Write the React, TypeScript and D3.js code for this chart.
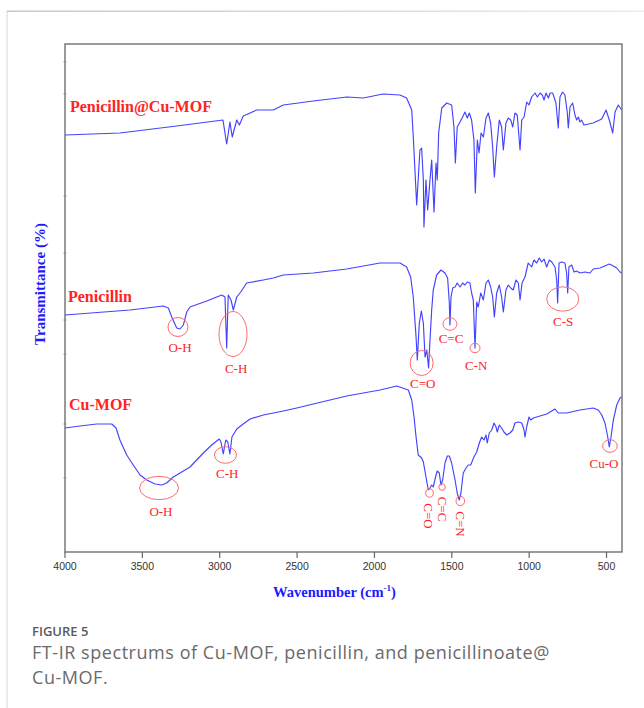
import React from 'react';
import * as d3 from 'd3';

// [wavenumber (cm-1), transmittance (a.u., offset stacked)]
const penicillinCuMOF: [number, number][] = [
  [4000, 418], [3645, 420], [3278, 427], [2979, 433], [2955, 409], [2934, 431], [2919, 416],
  [2890, 433], [2873, 428], [2848, 437], [2761, 443], [2654, 443], [2589, 448], [2395, 452],
  [2179, 456], [2072, 455], [1945, 459], [1835, 458], [1792, 455], [1759, 443], [1749, 416],
  [1727, 348], [1706, 403], [1695, 405], [1684, 373], [1680, 326], [1667, 373], [1656, 343],
  [1641, 373], [1630, 393], [1615, 341], [1602, 390], [1594, 373], [1585, 420], [1565, 445],
  [1533, 450], [1501, 448], [1486, 426], [1477, 390], [1465, 426], [1447, 431], [1430, 436],
  [1415, 441], [1400, 435], [1387, 440], [1372, 433], [1357, 413], [1348, 360], [1335, 413],
  [1324, 400], [1311, 420], [1296, 416], [1279, 435], [1264, 440], [1249, 430], [1236, 406],
  [1225, 376], [1210, 406], [1193, 433], [1178, 426], [1167, 403], [1150, 430], [1135, 435],
  [1119, 433], [1106, 426], [1092, 440], [1077, 438], [1059, 403], [1048, 433], [1033, 436],
  [1016, 451], [1001, 448], [984, 456], [962, 460], [947, 456], [930, 460], [915, 458],
  [904, 453], [891, 460], [876, 455], [865, 460], [848, 460], [827, 450], [812, 425],
  [801, 456], [784, 461], [769, 458], [754, 441], [747, 425], [736, 446], [719, 450],
  [704, 438], [693, 433], [682, 436], [672, 431], [661, 433], [646, 428], [586, 430],
  [531, 434], [503, 443], [482, 433], [460, 420], [445, 441], [424, 448], [402, 443],
];

const penicillin: [number, number][] = [
  [4000, 238], [3580, 243], [3365, 247], [3332, 245], [3310, 236], [3278, 225], [3257, 224],
  [3235, 228], [3213, 241], [3192, 246], [3084, 252], [2987, 258], [2966, 256], [2955, 205],
  [2945, 258], [2927, 253], [2912, 243], [2890, 256], [2864, 261], [2826, 270], [2718, 273],
  [2654, 275], [2589, 278], [2395, 280], [2179, 284], [1964, 290], [1856, 290], [1835, 290],
  [1792, 286], [1766, 276], [1749, 256], [1731, 216], [1723, 193], [1710, 230], [1697, 242],
  [1684, 230], [1673, 196], [1662, 203], [1650, 185], [1641, 213], [1630, 243], [1620, 263],
  [1598, 278], [1570, 283], [1544, 280], [1527, 275], [1516, 250], [1512, 228], [1505, 256],
  [1494, 265], [1479, 266], [1465, 270], [1447, 266], [1430, 270], [1415, 268], [1400, 271],
  [1383, 270], [1372, 260], [1361, 253], [1350, 205], [1339, 251], [1329, 246], [1313, 260],
  [1296, 253], [1279, 270], [1264, 273], [1249, 266], [1236, 256], [1225, 236], [1210, 260],
  [1193, 268], [1178, 256], [1167, 241], [1150, 263], [1135, 268], [1119, 265], [1103, 263],
  [1085, 273], [1070, 270], [1059, 253], [1046, 270], [1027, 276], [1006, 290], [984, 286],
  [969, 293], [951, 290], [935, 295], [919, 291], [904, 294], [887, 286], [870, 293],
  [854, 291], [833, 286], [822, 273], [816, 250], [807, 290], [790, 291], [769, 290],
  [758, 280], [751, 260], [743, 286], [725, 288], [710, 281], [693, 282], [672, 280],
  [639, 281], [607, 280], [586, 284], [542, 285], [482, 289], [456, 287], [434, 285],
  [413, 281], [402, 280],
];

const cuMOF: [number, number][] = [
  [4000, 125], [3903, 127], [3795, 129], [3698, 129], [3670, 125], [3645, 113], [3601, 98],
  [3559, 88], [3515, 78], [3472, 73], [3418, 69], [3375, 68], [3343, 70], [3300, 76],
  [3235, 82], [3192, 86], [3149, 93], [3106, 100], [3052, 108], [3003, 114], [2992, 111],
  [2977, 99], [2961, 113], [2948, 111], [2934, 99], [2921, 116], [2890, 124], [2848, 129],
  [2804, 134], [2718, 138], [2589, 142], [2502, 145], [2395, 149], [2287, 153], [2179, 157],
  [2072, 160], [1964, 163], [1856, 167], [1781, 163], [1759, 153], [1744, 136], [1731, 116],
  [1717, 98], [1695, 95], [1684, 91], [1667, 76], [1652, 63], [1641, 65], [1630, 68],
  [1620, 66], [1602, 78], [1594, 82], [1581, 80], [1570, 68], [1559, 73], [1544, 90],
  [1529, 97], [1516, 97], [1501, 90], [1479, 73], [1465, 60], [1452, 53], [1441, 60],
  [1426, 80], [1408, 85], [1393, 88], [1378, 88], [1357, 96], [1339, 101], [1322, 110],
  [1307, 116], [1292, 113], [1279, 118], [1271, 110], [1258, 120], [1242, 123], [1227, 130],
  [1214, 126], [1206, 121], [1193, 128], [1178, 125], [1163, 121], [1145, 118], [1124, 120],
  [1106, 123], [1092, 130], [1070, 131], [1048, 130], [1033, 123], [1027, 116], [1016, 126],
  [1001, 136], [990, 133], [973, 135], [930, 137], [887, 139], [854, 142], [833, 144],
  [812, 140], [758, 140], [672, 143], [586, 145], [553, 143], [531, 138], [510, 130],
  [492, 116], [482, 106], [471, 116], [456, 133], [434, 148], [413, 155], [402, 156],
];

const seriesNames = ['Penicillin@Cu-MOF', 'Penicillin', 'Cu-MOF'];
const seriesNamePos: [number, number][] = [[3968, 441], [3981, 251], [3974, 143]];

const xTicks = [4000, 3500, 3000, 2500, 2000, 1500, 1000, 500];
const yMinorTicks = [491, 459, 357, 300, 233, 199, 129, 75];

// band annotations: label, ellipse centre [wn, T], label centre [wn, T], rotated label?
const bandLabels = ['O-H', 'C-H', 'C=O', 'C=C', 'C-N', 'C-S', 'O-H', 'C-H', 'C=O', 'C=C', 'C=N', 'Cu-O'];
const bandCentres: [number, number][] = [
  [3270, 226], [2914, 219], [1695, 190], [1512, 229], [1350, 205], [783, 254],
  [3392, 65], [2963, 98], [1644, 60], [1563, 66], [1445, 52], [478, 107],
];
const bandTextPos: [number, number][] = [
  [3257, 206], [2894, 185], [1688, 170], [1505, 215], [1343, 188], [780, 232],
  [3380, 42], [2951, 80], [1650, 37], [1563, 44], [1441, 29], [517, 90],
];
const bandRadii: [number, number][] = [
  [10, 9.5], [14, 22.5], [11.5, 12.5], [7, 6.3], [5, 4.7], [16, 12.2],
  [19.5, 11.7], [11, 8.3], [3.8, 4.2], [3.2, 3.3], [4.3, 4.7], [7.3, 6.3],
];
const bandRotated = [false, false, false, false, false, false, false, false, true, true, true, false];

const W = 644;
const H = 708;
const SERIF = "'Liberation Serif', 'Times New Roman', serif";
const SANS = "'Liberation Sans', Arial, sans-serif";
const CAP = "'Open Sans', 'Noto Sans', sans-serif";
const BLUE = '#4343ff';
const RED = '#ff2424';
const ELL = '#ff6a6a';

export default function App() {
  const x = d3.scaleLinear().domain([4000, 400]).range([65, 622]);
  const y = d3.scaleLinear().domain([1, 509]).range([552, 44]);
  const line = d3
    .line<[number, number]>()
    .x((d) => x(d[0]))
    .y((d) => y(d[1]));
  const series = [penicillinCuMOF, penicillin, cuMOF];
  const x0 = x.range()[0];
  const x1 = x.range()[1];
  const yTop = y.range()[1];
  const yBot = y.range()[0];

  return (
    <svg
      width={W}
      height={H}
      style={{ position: 'absolute', left: 0, top: 0, background: '#fff' }}
    >
      <defs>
        <linearGradient id="topBorder" x1="0" x2="1" y1="0" y2="0">
          <stop offset="0" stopColor="#c8c8c8" />
          <stop offset="1" stopColor="#ececec" />
        </linearGradient>
      </defs>
      {/* card border */}
      <line x1={7} x2={7} y1={11} y2={H} stroke="#d6d6d6" strokeWidth={1} />
      <rect x={7} y={10.5} width={W - 7} height={1.5} fill="url(#topBorder)" />

      {/* spectra */}
      {series.map((s, i) => (
        <path key={i} d={line(s) || ''} fill="none" stroke={BLUE} strokeWidth={1.15} strokeLinejoin="round" />
      ))}

      {/* frame */}
      <rect x={x0} y={yTop} width={x1 - x0} height={yBot - yTop} fill="none" stroke="#666" strokeWidth={1.3} />
      {yMinorTicks.map((t) => (
        <line key={t} x1={x0 - 1.5} x2={x0 + 1.5} y1={y(t)} y2={y(t)} stroke="#888" strokeWidth={1} />
      ))}
      {xTicks.map((t) => (
        <g key={t}>
          <line x1={x(t)} x2={x(t)} y1={yBot} y2={yBot + 6} stroke="#666" strokeWidth={1.2} />
          <text
            x={x(t)}
            y={yBot + 18}
            textAnchor="middle"
            fontFamily={SANS}
            fontSize={10.5}
            fill="#333"
          >
            {t}
          </text>
        </g>
      ))}

      {/* axis titles */}
      <text
        x={(x0 + x1) / 2 - 9}
        y={597}
        textAnchor="middle"
        fontFamily={SERIF}
        fontWeight="bold"
        fontSize={14.5}
        fill="#1a1aff"
      >
        Wavenumber (cm
        <tspan fontSize={9} dy={-6}>-1</tspan>
        <tspan dy={6}>)</tspan>
      </text>
      <text
        transform={`translate(45, 284) rotate(-90)`}
        textAnchor="middle"
        fontFamily={SERIF}
        fontWeight="bold"
        fontSize={15}
        fill="#1a1aff"
      >
        Transmittance (%)
      </text>

      {/* series names */}
      {seriesNames.map((n, i) => (
        <text
          key={n}
          x={x(seriesNamePos[i][0])}
          y={y(seriesNamePos[i][1])}
          fontFamily={SERIF}
          fontWeight="bold"
          fontSize={16}
          fill={RED}
        >
          {n}
        </text>
      ))}

      {/* band annotations */}
      {bandLabels.map((lab, i) => {
        const [cw, cv] = bandCentres[i];
        const [tw, tv] = bandTextPos[i];
        const [rx, ry] = bandRadii[i];
        return (
          <g key={i}>
            <ellipse cx={x(cw)} cy={y(cv)} rx={rx} ry={ry} fill="none" stroke={ELL} strokeWidth={1} />
            <text
              transform={`translate(${x(tw)}, ${y(tv)})${bandRotated[i] ? ' rotate(90)' : ''}`}
              textAnchor="middle"
              dominantBaseline="central"
              fontFamily={SERIF}
              fontSize={13}
              fill={RED}
            >
              {lab}
            </text>
          </g>
        );
      })}

      {/* caption */}
      <text x={32} y={636} fontFamily={CAP} fontSize={13} fontWeight={600} fill="#5a5a5a">
        FIGURE 5
      </text>
      <text x={32} y={659} fontFamily={CAP} fontSize={18} letterSpacing={0.55} fill="#6a6a6a">
        FT-IR spectrums of Cu-MOF, penicillin, and penicillinoate@
      </text>
      <text x={32} y={684} fontFamily={CAP} fontSize={18} letterSpacing={0.55} fill="#6a6a6a">
        Cu-MOF.
      </text>
    </svg>
  );
}
